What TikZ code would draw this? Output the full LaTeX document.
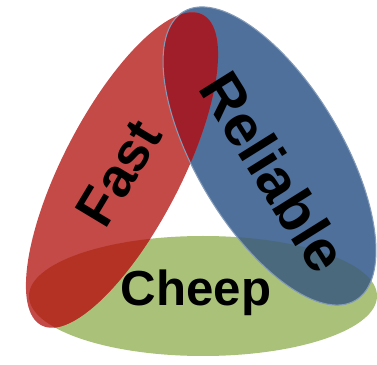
\documentclass[tikz,border=0pt]{standalone}
\usepackage{fontspec}
\setmainfont{Liberation Sans}
\usepackage{tikz}
\usetikzlibrary{positioning}
\definecolor{fastred}{RGB}{196,74,72}
\definecolor{reliableblue}{RGB}{78,112,155}
\definecolor{cheepgreen}{RGB}{170,193,122}
\definecolor{fastreliable}{RGB}{160,30,42}
\definecolor{fastcheep}{RGB}{180,50,36}
\definecolor{reliablecheep}{RGB}{75,105,125}

\tikzset{
    fastrot/.style={rotate around={62.6:(2.44,3.88)}},
    reliablerot/.style={rotate around={-59.2:(5.39,4.16)}},
    label/.style={font=\bfseries, text=black, inner sep=0pt}
}

\begin{document}
\begin{tikzpicture}
    \useasboundingbox (0,0) rectangle (7.54,7.28);

    % Ellipses
    \fill[cheepgreen] (4.06,1.36) ellipse [x radius=3.48, y radius=1.2];
    \fill[reliableblue, reliablerot] (5.39,4.16) ellipse [x radius=3.36, y radius=1.46];
    \fill[fastred, fastrot] (2.44,3.88) ellipse [x radius=3.5, y radius=1.18];

    % Overlaps
    \begin{scope}
        \clip (4.06,1.36) ellipse [x radius=3.48, y radius=1.2];
        \fill[reliablecheep, reliablerot] (5.39,4.16) ellipse [x radius=3.36, y radius=1.46];
        \fill[fastcheep, fastrot] (2.44,3.88) ellipse [x radius=3.5, y radius=1.18];
    \end{scope}
    \begin{scope}
        \clip[reliablerot] (5.39,4.16) ellipse [x radius=3.36, y radius=1.46];
        \fill[fastreliable, fastrot] (2.44,3.88) ellipse [x radius=3.5, y radius=1.18];
    \end{scope}
    \draw[reliableblue!70!white, line width=0.6pt, reliablerot] (5.39,4.16) ellipse [x radius=3.36, y radius=1.46];

    % Labels
    \node[label, rotate=59, font=\fontsize{31}{33}\selectfont\bfseries] (fast) at (2.38,3.82) {Fast};
    \node[label, rotate=-58, font=\fontsize{33}{35}\selectfont\bfseries] (reliable) at (5.48,3.84) {Reliable};
    \node[label, font=\fontsize{28}{30}\selectfont\bfseries] (cheep) at (3.92,1.42) {Cheep};
\end{tikzpicture}
\end{document}
